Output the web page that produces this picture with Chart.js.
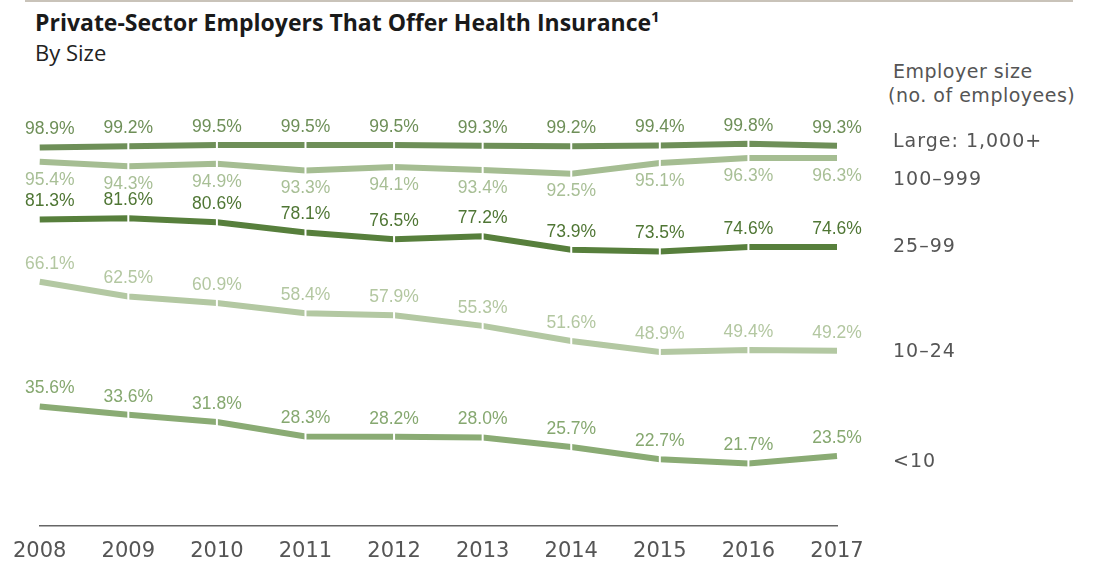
<!DOCTYPE html>
<html>
<head>
<meta charset="utf-8">
<script src="https://cdn.jsdelivr.net/npm/chart.js@4.4.0/dist/chart.umd.min.js"></script>
<style>
  body { margin: 0; background: #fff; }
  #wrap { position: relative; width: 1093px; height: 561px; overflow: hidden; font-family: 'Open Sans', 'Noto Sans', sans-serif; }
  #topRule { position: absolute; left: 25px; top: 0; width: 1048px; height: 2px; background: #c9c3b9; }
  #title { position: absolute; left: 35px; top: 6px; font-size: 23px; font-weight: bold; color: #1a1a1a; white-space: nowrap; }
  #title sup { font-size: 15px; vertical-align: 9px; line-height: 0; }
  #subtitle { position: absolute; left: 35px; top: 37px; font-size: 22px; color: #222; }
  .key { position: absolute; font-family: 'DejaVu Sans', sans-serif; font-size: 19px; letter-spacing: 1px; color: #555; white-space: nowrap; }
  .head { letter-spacing: 0.5px; }
  canvas { position: absolute; left: 0; top: 0; }
</style>
</head>
<body>
<div id="wrap">
  <div id="topRule"></div>
  <div id="title">Private-Sector Employers That Offer Health Insurance<sup>1</sup></div>
  <div id="subtitle">By Size</div>
  <div class="key head" style="left:893px; top:60px;">Employer size</div>
  <div class="key head" style="left:888px; top:84px;">(no. of employees)</div>
  <canvas id="chart" width="1093" height="561"></canvas>
</div>
<script>
(function () {
  // years on the x axis
  const years = ['2008', '2009', '2010', '2011', '2012', '2013', '2014', '2015', '2016', '2017'];

  // share of employers offering health insurance, %
  const large = [98.9, 99.2, 99.5, 99.5, 99.5, 99.3, 99.2, 99.4, 99.8, 99.3];
  const mid = [95.4, 94.3, 94.9, 93.3, 94.1, 93.4, 92.5, 95.1, 96.3, 96.3];
  const small = [81.3, 81.6, 80.6, 78.1, 76.5, 77.2, 73.9, 73.5, 74.6, 74.6];
  const smaller = [66.1, 62.5, 60.9, 58.4, 57.9, 55.3, 51.6, 48.9, 49.4, 49.2];
  const smallest = [35.6, 33.6, 31.8, 28.3, 28.2, 28.0, 25.7, 22.7, 21.7, 23.5];

  const seriesNames = ['Large: 1,000+', '100\u2013999', '25\u201399', '10\u201324', '<10'];
  const keyTops = [129, 167, 234, 339, 449];

  const lineColors = ['#6e8f58', '#a5bd92', '#577f3c', '#b3c8a2', '#8aab74'];
  const labelColors = ['#6e8f58', '#a8bf96', '#4f7634', '#b3c7a1', '#86a870'];
  const labelSide = [-1, 1, -1, -1, -1];

  function $(id) { return document.getElementById(id); }

  // series names at the right edge
  seriesNames.forEach((name, i) => {
    const d = document.createElement('div');
    d.className = 'key';
    d.style.left = '893px';
    d.style.top = keyTops[i] + 'px';
    d.textContent = name;
    $('wrap').appendChild(d);
  });

  const valueLabels = {
    id: 'valueLabels',
    afterDatasetsDraw(chart) {
      const ctx = chart.ctx;
      ctx.save();
      ctx.font = '17.5px "Liberation Sans", Arial, sans-serif';
      ctx.textAlign = 'center';
      ctx.textBaseline = 'middle';
      chart.data.datasets.forEach((ds, di) => {
        const meta = chart.getDatasetMeta(di);
        ctx.fillStyle = labelColors[di];
        meta.data.forEach((pt, i) => {
          const x = pt.x + (i === 0 ? 10 : 0);
          const y = pt.y + labelSide[di] * 18;
          ctx.fillText(ds.data[i].toFixed(1) + '%', x, y);
        });
      });
      ctx.restore();
    }
  };

  function makeSet(data, i) {
    return {
      label: seriesNames[i],
      data: data,
      borderColor: lineColors[i],
      borderWidth: 6,
      borderCapStyle: 'butt',
      tension: 0,
      fill: false,
      pointStyle: 'line',
      rotation: 90,
      pointRadius: data.map((v, k) => (k === 0 || k === data.length - 1) ? 0 : 4.5),
      pointBorderColor: '#fff',
      pointBorderWidth: 2,
      pointHoverRadius: 0
    };
  }

  new Chart($('chart').getContext('2d'), {
    type: 'line',
    data: {
      labels: years,
      datasets: [large, mid, small, smaller, smallest].map(makeSet)
    },
    options: {
      responsive: false,
      animation: false,
      layout: { padding: { left: 39, right: 256, top: 100, bottom: 0 } },
      plugins: { legend: { display: false }, tooltip: { enabled: false } },
      scales: {
        x: {
          offset: false,
          grid: { display: false, drawTicks: false },
          border: { display: true, color: '#666', width: 1.5 },
          ticks: { color: '#555', font: { family: 'DejaVu Sans', size: 21 }, padding: 13, maxRotation: 0, autoSkip: false },
          afterFit: s => { s.height = 35; }
        },
        y: { display: false, min: 6.4, max: 110.5 }
      }
    },
    plugins: [valueLabels]
  });
})();
</script>
</body>
</html>
